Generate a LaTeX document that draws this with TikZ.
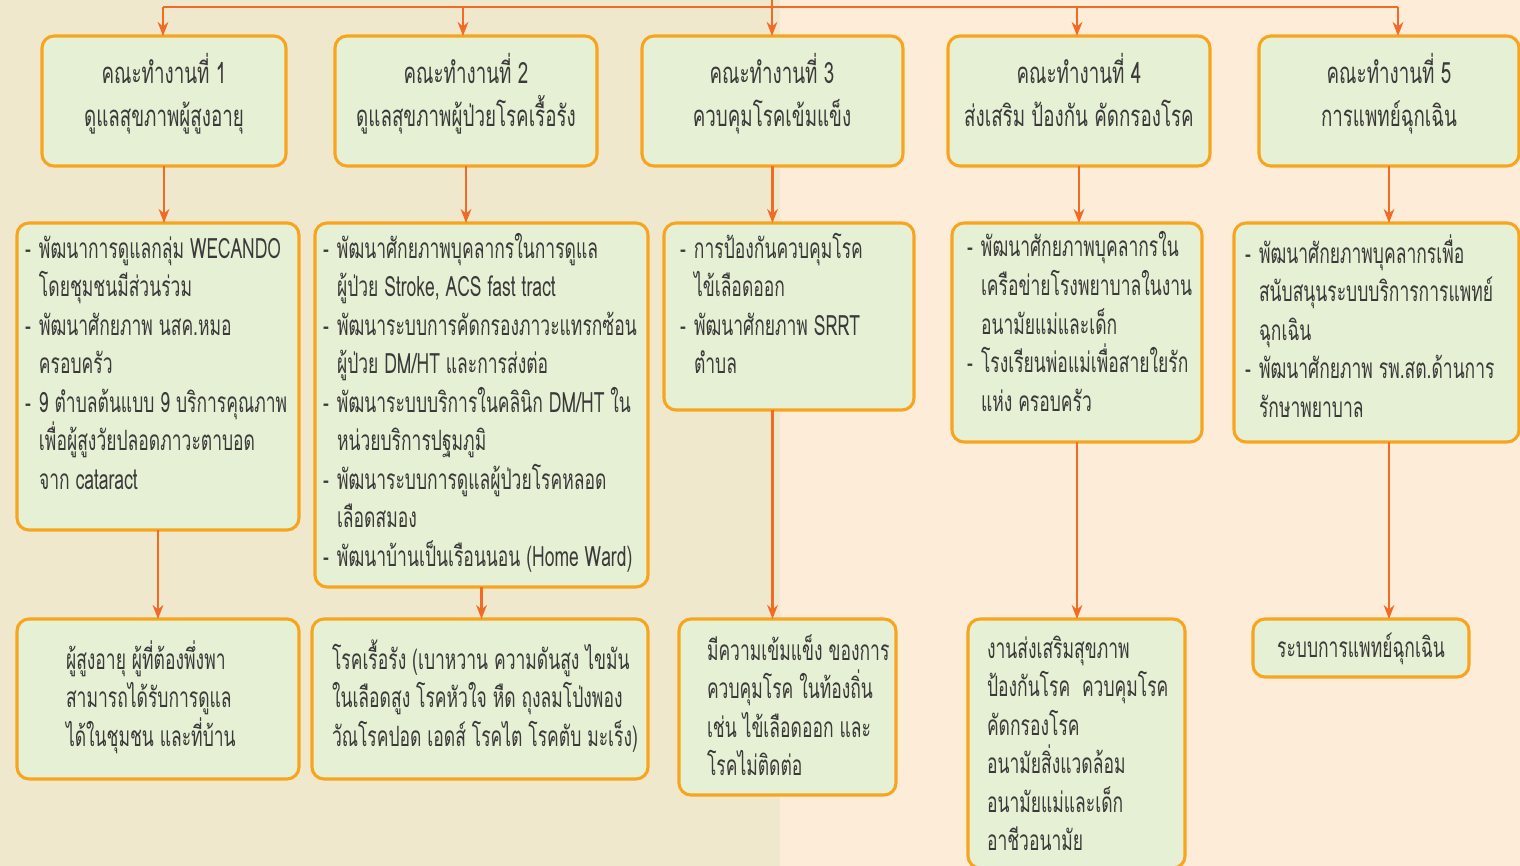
\documentclass[tikz,border=0pt]{standalone}
\usepackage{fontspec}
\usetikzlibrary{arrows.meta}
\newfontfamily\thai[Script=Thai,FakeStretch=0.64]{Loma}
\newfontfamily\thaib[Script=Thai,FakeStretch=0.625]{Loma}
\definecolor{bgA}{HTML}{F0E8CC}
\definecolor{bgB}{HTML}{FDEDD8}
\definecolor{boxfill}{HTML}{E6F0D4}
\definecolor{boxline}{HTML}{F7A51E}
\definecolor{arrc}{HTML}{F26A24}
\definecolor{txt}{HTML}{3A3A3A}
\newcommand\bx[5]{\node[boxst,anchor=north west,minimum width={(#4-#2)*0.75pt},minimum height={(#5-#3)*0.75pt}] (#1) at (#2,#3) {};}
\newcommand\dsh{\makebox[10.5pt][l]{-}}
\newcommand\hng{\hangindent=10.5pt\hangafter=1 }
\begin{document}
\begin{tikzpicture}[x=0.75pt,y=-0.75pt,
  boxst/.style={draw=boxline,line width=2.3pt,fill=boxfill,rounded corners=9pt,inner sep=0pt,outer sep=0pt},
  arr/.style={draw=arrc,line width=1.9pt,-{Stealth[length=10.5pt,width=8pt]}},
  ln/.style={draw=arrc,line width=1.9pt},
  tx/.style={inner sep=0pt,outer sep=0pt,text=txt,font=\thaib\fontsize{21pt}{28.9pt}\selectfont},
  hd/.style={inner sep=0pt,outer sep=0pt,text=txt,font=\thai\fontsize{22pt}{32pt}\selectfont}]
\useasboundingbox (0,0) rectangle (1520,866);
\fill[bgA] (0,0) rectangle (780,866);
\fill[bgB] (780,0) rectangle (1520,866);
% row 1
\bx{b11}{42}{36}{286}{166}
\bx{b12}{335}{36}{597}{166}
\bx{b13}{642}{36}{903}{166}
\bx{b14}{948}{36}{1210}{166}
\bx{b15}{1259}{36}{1519}{166}
% row 2
\bx{b21}{17}{223}{299}{530}
\bx{b22}{315}{223}{648}{587}
\bx{b23}{664}{223}{914}{410}
\bx{b24}{952}{223}{1202}{442}
\bx{b25}{1234}{223}{1519}{442}
% row 3
\bx{b31}{17}{619}{299}{779}
\bx{b32}{312}{619}{648}{779}
\bx{b33}{679}{619}{896}{795}
\bx{b34}{968}{619}{1185}{868}
\bx{b35}{1253}{619}{1469}{677}
% top connectors
\coordinate (jt) at (772,-2);
\coordinate (j1) at (163,7);
\coordinate (j2) at (463,7);
\coordinate (j3) at (772,7);
\coordinate (j4) at (1077,7);
\coordinate (j5) at (1398,7);
\draw[ln] (jt) -- (j3);
\draw[ln] (j1) -- (j5);
\foreach \j/\b in {j1/b11,j2/b12,j3/b13,j4/b14,j5/b15}
  \draw[arr] (\j) -- (\j |- \b.north);
% row1 -> row2
\foreach \a/\b in {b11/b21,b12/b22,b13/b23,b14/b24,b15/b25}
  \draw[arr] (\a.south) -- (\a.south |- \b.north);
% row2 -> row3
\draw[arr] (b21.south) -- (b21.south |- b31.north);
\draw[arr] (b22.south) -- (b22.south |- b32.north);
\draw[arr] (b13.south |- b23.south) -- (b13.south |- b33.north);
\draw[arr] (b24.south) -- (b24.south |- b34.north);
\draw[arr] (b15.south |- b25.south) -- (b15.south |- b35.north);
% row 1 texts
\node[hd,anchor=base] (t11) at (164,84) {\parbox[t]{230pt}{\centering คณะทำงานที่ 1\\ดูแลสุขภาพผู้สูงอายุ}};
\node[hd,anchor=base] (t12) at (466,84) {\parbox[t]{230pt}{\centering คณะทำงานที่ 2\\ดูแลสุขภาพผู้ป่วยโรคเรื้อรัง}};
\node[hd,anchor=base] (t13) at (772,84) {\parbox[t]{230pt}{\centering คณะทำงานที่ 3\\ควบคุมโรคเข้มแข็ง}};
\node[hd,anchor=base] (t14) at (1079,84) {\parbox[t]{230pt}{\centering คณะทำงานที่ 4\\ส่งเสริม ป้องกัน คัดกรองโรค}};
\node[hd,anchor=base] (t15) at (1389,84) {\parbox[t]{230pt}{\centering คณะทำงานที่ 5\\การแพทย์ฉุกเฉิน}};
% row 2 texts
\node[tx,anchor=base west] (t21) at (25,258) {\parbox[t]{400pt}{\raggedright
\hng\dsh พัฒนาการดูแลกลุ่ม WECANDO\newline โดยชุมชนมีส่วนร่วม\par
\hng\dsh พัฒนาศักยภาพ นสค.หมอ\newline ครอบครัว\par
\hng\dsh 9 ตำบลต้นแบบ 9 บริการคุณภาพ\newline เพื่อผู้สูงวัยปลอดภาวะตาบอด\newline จาก cataract\par}};
\node[tx,anchor=base west] (t22) at (323,258) {\parbox[t]{400pt}{\raggedright
\hng\dsh พัฒนาศักยภาพบุคลากรในการดูแล\newline ผู้ป่วย Stroke, ACS fast tract\par
\hng\dsh พัฒนาระบบการคัดกรองภาวะแทรกซ้อน\newline ผู้ป่วย DM/HT และการส่งต่อ\par
\hng\dsh พัฒนาระบบบริการในคลินิก DM/HT ใน\newline หน่วยบริการปฐมภูมิ\par
\hng\dsh พัฒนาระบบการดูแลผู้ป่วยโรคหลอด\newline เลือดสมอง\par
\hng\dsh พัฒนาบ้านเป็นเรือนนอน (Home Ward)\par}};
\node[tx,anchor=base west] (t23) at (680,258) {\parbox[t]{400pt}{\raggedright
\hng\dsh การป้องกันควบคุมโรค\newline ไข้เลือดออก\par
\hng\dsh พัฒนาศักยภาพ SRRT\newline ตำบล\par}};
\node[tx,anchor=base west] (t24) at (967,257) {\parbox[t]{400pt}{\raggedright
\hng\dsh พัฒนาศักยภาพบุคลากรใน\newline เครือข่ายโรงพยาบาลในงาน\newline อนามัยแม่และเด็ก\par
\hng\dsh โรงเรียนพ่อแม่เพื่อสายใยรัก\newline แห่ง ครอบครัว\par}};
\node[tx,anchor=base west] (t25) at (1245,263) {\parbox[t]{400pt}{\raggedright
\hng\dsh พัฒนาศักยภาพบุคลากรเพื่อ\newline สนับสนุนระบบบริการการแพทย์\newline ฉุกเฉิน\par
\hng\dsh พัฒนาศักยภาพ รพ.สต.ด้านการ\newline รักษาพยาบาล\par}};
% row 3 texts
\node[tx,anchor=base west] (t31) at (66,669) {\parbox[t]{400pt}{\raggedright
ผู้สูงอายุ ผู้ที่ต้องพึ่งพา\newline สามารถได้รับการดูแล\newline ได้ในชุมชน และที่บ้าน}};
\node[tx,anchor=base west] (t32) at (332,669) {\parbox[t]{400pt}{\raggedright
โรคเรื้อรัง (เบาหวาน ความดันสูง ไขมัน\newline ในเลือดสูง โรคหัวใจ หืด ถุงลมโป่งพอง\newline วัณโรคปอด เอดส์ โรคไต โรคตับ มะเร็ง)}};
\node[tx,anchor=base west] (t33) at (707,660) {\parbox[t]{400pt}{\raggedright
มีความเข้มแข็ง ของการ\newline ควบคุมโรค ในท้องถิ่น\newline เช่น ไข้เลือดออก และ\newline โรคไม่ติดต่อ}};
\node[tx,anchor=base west] (t34) at (987,658) {\parbox[t]{400pt}{\raggedright
งานส่งเสริมสุขภาพ\newline ป้องกันโรค\ \ ควบคุมโรค\newline คัดกรองโรค\newline อนามัยสิ่งแวดล้อม\newline อนามัยแม่และเด็ก\newline อาชีวอนามัย}};
\node[tx,anchor=base] (t35) at (1361,657) {ระบบการแพทย์ฉุกเฉิน};
\end{tikzpicture}
\end{document}
